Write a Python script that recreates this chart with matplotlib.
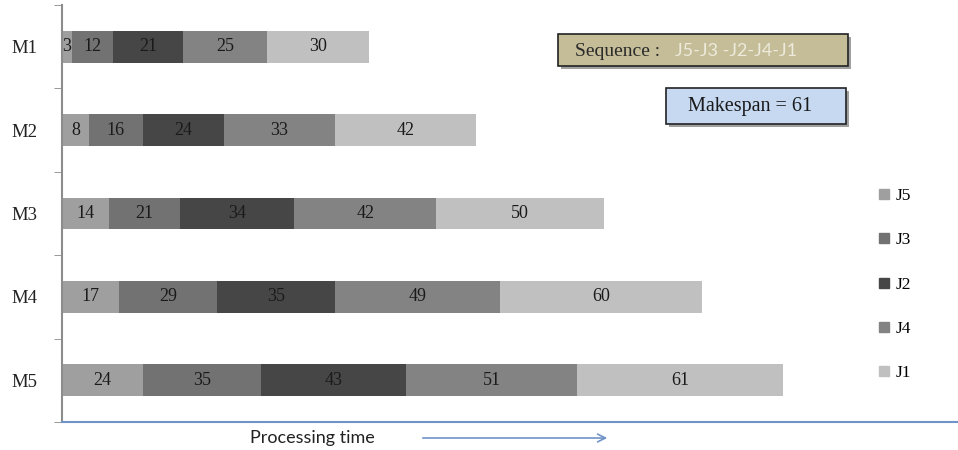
import matplotlib
matplotlib.use('Agg')
from matplotlib import pyplot as plt
from matplotlib.patches import Rectangle, FancyArrowPatch
from matplotlib.lines import Line2D
import numpy as np

machines = ['M1', 'M2', 'M3', 'M4', 'M5']
jobs = ['J5', 'J3', 'J2', 'J4', 'J1']
# completion time of each job on each machine
j5 = [3, 8, 14, 17, 24]
j3 = [12, 16, 21, 29, 35]
j2 = [21, 24, 34, 35, 43]
j4 = [25, 33, 42, 49, 51]
j1 = [30, 42, 50, 60, 61]
job_times = [j5, j3, j2, j4, j1]
job_colors = ['#9f9f9f', '#727272', '#464646', '#838383', '#c0c0c0']
sequence = 'J5-J3 -J2-J4-J1'
makespan = 61

serif = 'Liberation Serif'
sans = 'Lato'

fig = plt.figure(figsize=(9.58, 4.5), dpi=100)
ax = fig.add_axes([62/958, 28/450, 1 - 62/958, 417/450])

y = np.arange(len(machines))
left = np.zeros(len(machines))
for name, vals, col in zip(jobs, job_times, job_colors):
    vals = np.array(vals, dtype=float)
    ax.barh(y, vals, left=left, height=0.38, color=col, label=name)
    for yi, l, v in zip(y, left, vals):
        ax.text(l + v/2, yi, '%d' % v, ha='center', va='center',
                fontsize=13, family=serif, color='#1a1a1a')
    left += vals

ax.set_xlim(0, 266)
ax.set_ylim(len(machines) - 0.5, -0.5)
ax.set_yticks(y)
ax.set_yticklabels(machines, family=serif, fontsize=13.5, color='#222222')
ax.tick_params(axis='y', which='major', length=0, pad=18)
ax.set_yticks(np.arange(-0.5, len(machines), 1.0), minor=True)
ax.tick_params(axis='y', which='minor', length=6, color='#888888')
ax.set_xticks([])
for s in ['top', 'right']:
    ax.spines[s].set_visible(False)
ax.spines['left'].set_color('#8c8c8c')
ax.spines['left'].set_linewidth(1.5)
ax.spines['bottom'].set_color('#6f93c8')
ax.spines['bottom'].set_linewidth(1.5)

# legend on the right
handles = [Line2D([], [], marker='s', linestyle='none', markersize=7,
                  markerfacecolor=c, markeredgecolor=c) for c in job_colors]
fig.legend(handles, jobs, loc='upper left', bbox_to_anchor=(870/958, 1 - 181/450),
           frameon=False, prop={'family': serif, 'size': 12.5}, labelspacing=1.62,
           handlelength=0.8, handletextpad=0.3, borderaxespad=0)

# info boxes
def px_box(x0, y0, x1, y1, face):
    w, h = (x1 - x0) / 958, (y1 - y0) / 450
    fx, fy = x0 / 958, 1 - y1 / 450
    fig.patches.append(Rectangle((fx + 3/958, fy - 3/450), w, h, transform=fig.transFigure,
                                 facecolor='#a0a0a0', edgecolor='none', zorder=2))
    fig.patches.append(Rectangle((fx, fy), w, h, transform=fig.transFigure,
                                 facecolor=face, edgecolor='#222222', linewidth=1.2, zorder=3))

px_box(558, 34, 848, 66, '#c4bd97')
fig.text(575/958, 1 - 51/450, 'Sequence :', family=serif, fontsize=14,
         color='#2a2a2a', va='center', ha='left', zorder=4)
fig.text(675/958, 1 - 51/450, sequence, family=sans, fontsize=13,
         color='#eeeadc', va='center', ha='left', zorder=4)

px_box(666, 88, 846, 124, '#c6d9f1')
fig.text(750/958, 1 - 106/450, 'Makespan = %d' % makespan, family=serif, fontsize=14.5,
         color='#1a1a1a', va='center', ha='center', zorder=4)

# axis caption with arrow
fig.text(250/958, 1 - 438/450, 'Processing time', family=sans, fontsize=13,
         color='#222222', va='center', ha='left')
fig.patches.append(FancyArrowPatch((420/958, 1 - 438/450), (610/958, 1 - 438/450),
                                   transform=fig.transFigure, arrowstyle='->',
                                   mutation_scale=14, color='#6f93c8', linewidth=1.2))

fig.savefig('out.png', dpi=100)
